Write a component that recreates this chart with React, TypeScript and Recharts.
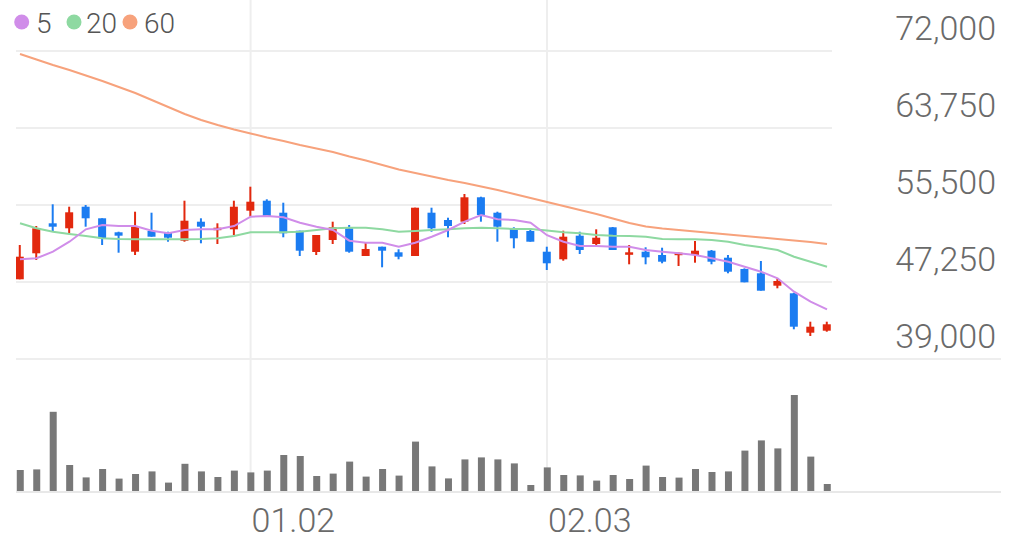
import { Bar, CartesianGrid, ComposedChart, Line, ReferenceLine, XAxis, YAxis } from "recharts";

// daily candles, oldest first
const openPrices = [
  47540, 50325, 53539, 53004, 55318, 54075, 52575, 50496, 52714, 52532,
  51675, 53711, 52821, 52896, 54889, 55960, 54675, 52746, 50464, 51750,
  53004, 50036, 51032, 50432, 50036, 54675, 53893, 53711, 56325, 54675,
  53004, 52714, 50496, 49682, 52211, 51321, 53111, 50218, 50496, 50143,
  50143, 50143, 50604, 49854, 48643, 48182, 46854, 46039, 41818, 42032,
];
const highPrices = [
  51214, 53250, 55575, 55318, 55500, 54075, 52639, 54782, 54675, 52639,
  55960, 54075, 53539, 55960, 57461, 56111, 55746, 52746, 52286, 53711,
  53357, 51461, 51032, 50753, 55211, 55211, 54139, 56679, 56389, 54782,
  53111, 53004, 51032, 52746, 52639, 52896, 53143, 51214, 50968, 50925,
  50389, 51643, 50679, 50143, 48714, 49500, 47646, 46104, 42996, 42996,
];
const lowPrices = [
  47540, 49607, 52639, 52468, 53175, 51214, 50389, 50143, 52104, 51568,
  51568, 51396, 51321, 52286, 54246, 54246, 52039, 50036, 50143, 51321,
  50389, 50036, 48825, 49682, 50036, 52639, 52039, 53464, 53711, 51568,
  50861, 51568, 48536, 49532, 50250, 51032, 50679, 49146, 49146, 49254,
  48964, 49318, 49146, 48182, 47218, 46318, 46575, 42182, 41464, 41925,
];
const closePrices = [
  49961, 53004, 53175, 54718, 54075, 51932, 52211, 53250, 52104, 51996,
  53818, 53175, 53068, 55318, 55854, 54321, 52468, 50604, 52286, 53111,
  50496, 50786, 50604, 49961, 55211, 53004, 53250, 56325, 54429, 53175,
  51932, 51568, 49254, 52104, 50679, 51996, 50679, 50432, 49896, 49425,
  50389, 50604, 49425, 48354, 47218, 46318, 47357, 42461, 42461, 42718,
];

// moving averages as drawn
const ma5 = [
  49682, 49789, 50496, 51568, 52896, 53357, 53250, 53250, 52746, 52468,
  52821, 52896, 52896, 53250, 54246, 54321, 54182, 53604, 53175, 52821,
  51675, 51461, 51461, 51032, 51461, 52104, 52821, 53711, 54429, 53968,
  53893, 53604, 52264, 51568, 51107, 51107, 51032, 51032, 50679, 50496,
  50325, 50143, 49789, 49425, 48889, 48354, 47646, 46211, 45139, 44325,
];
const ma20 = [
  53539, 53004, 52639, 52393, 52179, 51932, 51857, 51825, 51825, 51825,
  51825, 51857, 51932, 52179, 52575, 52575, 52575, 52639, 52821, 53004,
  53068, 53068, 52896, 52639, 52714, 52821, 52896, 53004, 53068, 53004,
  52929, 52929, 52768, 52575, 52468, 52286, 52211, 52179, 52104, 51857,
  51825, 51825, 51750, 51568, 51214, 50968, 50679, 49961, 49425, 48889,
];
const ma60 = [
  71678, 71089, 70500, 69964, 69375, 68786, 68143, 67500, 66750, 66000,
  65250, 64607, 64071, 63589, 63161, 62732, 62357, 61929, 61554, 61179,
  60696, 60268, 59786, 59304, 58929, 58554, 58179, 57857, 57482, 57107,
  56679, 56250, 55821, 55393, 54964, 54536, 54054, 53571, 53196, 52982,
  52821, 52661, 52500, 52339, 52179, 52018, 51857, 51696, 51536, 51321,
];

const volumes = [
  110000, 113000, 401000, 135000, 73000, 115000, 67000, 90000, 103000, 47000,
  141000, 103000, 75000, 107000, 98000, 107000, 185000, 180000, 80000, 92000,
  152000, 77000, 115000, 82000, 252000, 128000, 68000, 163000, 173000, 163000,
  143000, 35000, 123000, 85000, 83000, 57000, 85000, 65000, 132000, 75000,
  72000, 115000, 100000, 103000, 207000, 258000, 218000, 485000, 177000, 40000,
];

const priceTicks = [39000, 47250, 55500, 63750, 72000];
const dateTickIndex = [14, 32];
const dateTickLabels = ["01.02", "02.03"];
const maLabels = ["5", "20", "60"];

const UP = "#e2280e";
const DOWN = "#1b7cf1";
const GRID = "#eeeeee";
const MA_COLORS = ["#d08de9", "#8ed9a1", "#f7a27c"];
const FONT = "Roboto, 'Noto Sans', sans-serif";

// x scale shared by both panes: the price pane stops where its y labels start,
// the volume pane runs the full width
const X_MIN = -0.243;
const X_PRICE_MAX = 49.303;
const X_FULL_MAX = 59.565;
const PRICE_DOMAIN: [number, number] = [39000, 77464];
const VOLUME_DOMAIN: [number, number] = [0, 665000];

const data = closePrices.map((close, i) => ({
  i,
  open: openPrices[i],
  high: highPrices[i],
  low: lowPrices[i],
  close,
  range: [lowPrices[i], highPrices[i]],
  ma5: ma5[i],
  ma20: ma20[i],
  ma60: ma60[i],
  volume: volumes[i],
}));

function Candle(props: any) {
  const { x, y, width, height, payload } = props;
  if (x == null || payload == null) return null;
  const top = Math.min(y, y + height);
  const span = Math.abs(height);
  const { open, high, low, close } = payload;
  const toY = (p: number) => (high === low ? top : top + ((high - p) / (high - low)) * span);
  const color = close >= open ? UP : DOWN;
  const cx = x + width / 2;
  const bodyTop = toY(Math.max(open, close));
  const bodyH = Math.max(2.5, toY(Math.min(open, close)) - bodyTop);
  return (
    <g>
      <line x1={cx} x2={cx} y1={toY(high)} y2={toY(low)} stroke={color} strokeWidth={2} />
      <rect x={x} y={bodyTop} width={width} height={bodyH} fill={color} />
    </g>
  );
}

function PriceTick(props: any) {
  const { y, payload } = props;
  return (
    <text x={996} y={y - 11} textAnchor="end" fontSize={34} fontFamily={FONT} fontWeight={300} fill="#6a6a6a">
      {Number(payload.value).toLocaleString("en-US")}
    </text>
  );
}

function DateTick(props: any) {
  const { x, y, payload } = props;
  const label = dateTickLabels[dateTickIndex.indexOf(payload.value)];
  return (
    <text x={x + 1} y={y + 38} textAnchor="start" fontSize={34} fontFamily={FONT} fontWeight={300} fill="#6a6a6a">
      {label}
    </text>
  );
}

function MaLegend() {
  const dots = [21.7, 74, 130];
  const texts = [36, 86, 144];
  return (
    <svg width={220} height={45} style={{ position: "absolute", left: 0, top: 0 }}>
      {maLabels.map((label, k) => (
        <g key={label}>
          <circle cx={dots[k]} cy={22} r={7.5} fill={MA_COLORS[k]} />
          <text x={texts[k]} y={33} fontSize={28} fontFamily={FONT} fontWeight={300} fill="#555">
            {label}
          </text>
        </g>
      ))}
    </svg>
  );
}

export default function App() {
  return (
    <div style={{ position: "absolute", left: 0, top: 0, width: 1017, height: 550, background: "#fff" }}>
      <div style={{ position: "absolute", left: 0, top: 0 }}>
        <ComposedChart width={1017} height={360} data={data} margin={{ top: 0, right: 16, bottom: 1, left: 16 }}>
          <CartesianGrid stroke={GRID} strokeWidth={2} syncWithTicks />
          <XAxis
            dataKey="i"
            type="number"
            domain={[X_MIN, X_PRICE_MAX]}
            ticks={dateTickIndex}
            interval={0}
            hide
            allowDataOverflow
          />
          <YAxis
            orientation="right"
            width={169}
            domain={PRICE_DOMAIN}
            ticks={priceTicks}
            interval={0}
            axisLine={false}
            tickLine={false}
            allowDataOverflow
            tick={PriceTick}
          />
          <ReferenceLine
            segment={[
              { x: X_MIN, y: priceTicks[0] },
              { x: X_FULL_MAX, y: priceTicks[0] },
            ]}
            ifOverflow="visible"
            stroke={GRID}
            strokeWidth={2}
          />
          <Line dataKey="ma60" stroke={MA_COLORS[2]} strokeWidth={2} dot={false} isAnimationActive={false} />
          <Line dataKey="ma20" stroke={MA_COLORS[1]} strokeWidth={2} dot={false} isAnimationActive={false} />
          <Line dataKey="ma5" stroke={MA_COLORS[0]} strokeWidth={2} dot={false} isAnimationActive={false} />
          <Bar dataKey="range" barSize={8} shape={Candle} isAnimationActive={false} />
        </ComposedChart>
      </div>
      <div style={{ position: "absolute", left: 0, top: 359 }}>
        <ComposedChart width={1017} height={191} data={data} margin={{ top: 0, right: 16, bottom: 0, left: 16 }}>
          <CartesianGrid stroke={GRID} strokeWidth={2} horizontal={false} syncWithTicks />
          <XAxis
            dataKey="i"
            type="number"
            domain={[X_MIN, X_FULL_MAX]}
            allowDataOverflow
            ticks={dateTickIndex}
            interval={0}
            height={58}
            tickLine={false}
            tickSize={0}
            axisLine={{ stroke: "#e8e8e8", strokeWidth: 2 }}
            tick={DateTick}
          />
          <YAxis hide domain={VOLUME_DOMAIN} allowDataOverflow />
          <Bar dataKey="volume" barSize={7} fill="#787878" isAnimationActive={false} />
        </ComposedChart>
      </div>
      <MaLegend />
    </div>
  );
}
